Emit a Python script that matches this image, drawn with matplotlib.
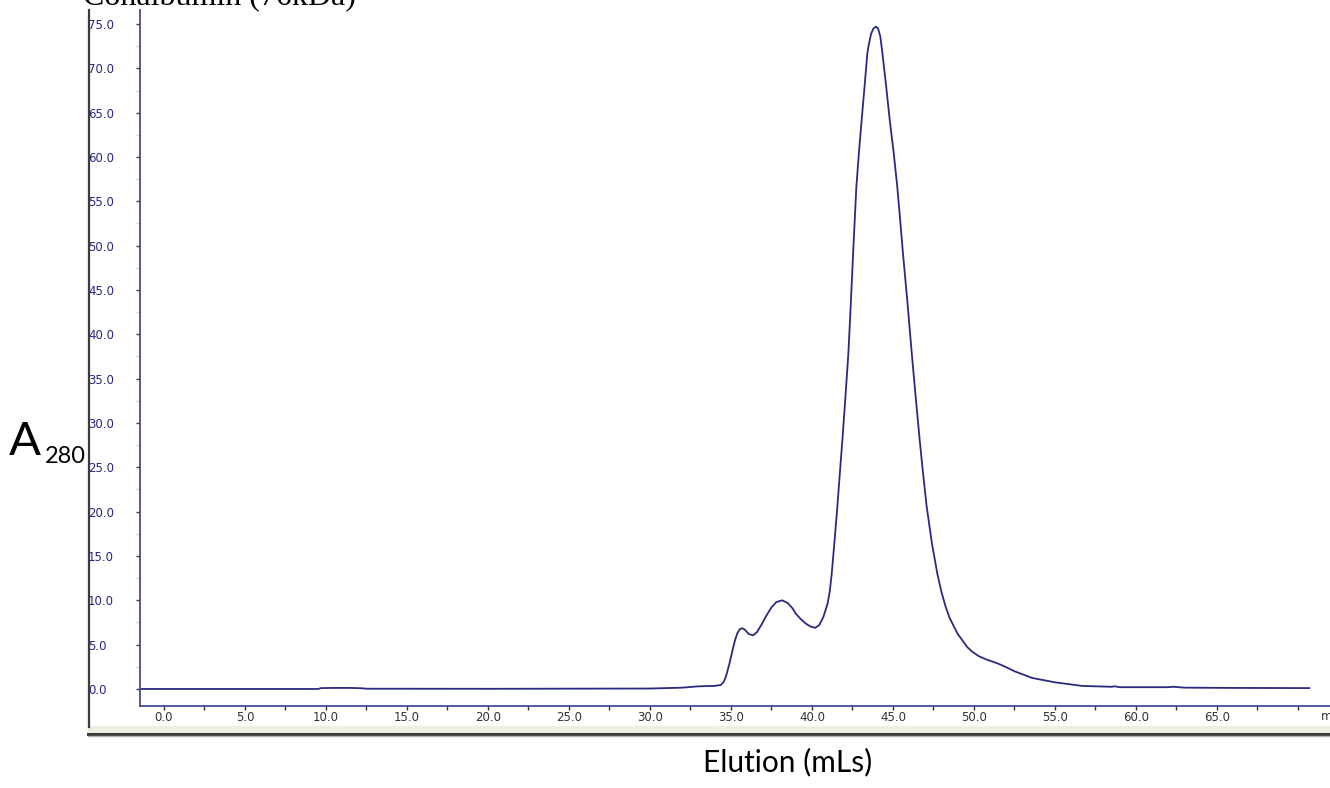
import numpy as np
import matplotlib.pyplot as plt
from matplotlib.lines import Line2D
from matplotlib.patches import Rectangle
from matplotlib.ticker import MultipleLocator

# Conalbumin gel filtration trace, A280 vs elution volume (mL)
vol = [-1.5, 9.5, 9.7, 10.5, 11.5, 12.2, 12.5, 20.0, 30.0, 32.0, 33.0, 34.0,
       34.38, 34.55, 34.69, 34.9, 35.1, 35.25, 35.4, 35.55, 35.7, 35.85, 36.1,
       36.37, 36.6, 36.9, 37.15, 37.5, 37.8, 38.15, 38.5, 38.8, 39.0, 39.3,
       39.6, 39.9, 40.2, 40.45, 40.7, 40.96, 41.1, 41.22, 41.4, 41.57, 41.72,
       41.88, 42.07, 42.25, 42.4, 42.54, 42.74, 42.9, 43.07, 43.25, 43.42,
       43.5, 43.65, 43.8, 43.94, 44.08, 44.22, 44.35, 44.58, 44.8, 45.05,
       45.27, 45.45, 45.62, 45.9, 46.16, 46.4, 46.65, 46.86, 47.08, 47.4,
       47.74, 48.0, 48.25, 48.5, 49.0, 49.28, 49.6, 49.9, 50.3, 50.8, 51.44,
       52.0, 52.5, 53.6, 55.0, 56.7, 58.5, 58.7, 59.0, 62.0, 62.3, 63.0,
       66.0, 70.7]
a280 = [0.0, 0.0, 0.1, 0.12, 0.12, 0.08, 0.03, 0.02, 0.05, 0.15, 0.3, 0.35,
        0.45, 0.8, 1.39, 2.8, 4.4, 5.5, 6.3, 6.75, 6.85, 6.7, 6.2,
        6.05, 6.4, 7.3, 8.15, 9.2, 9.8, 10.0, 9.7, 9.1, 8.5, 7.9,
        7.4, 7.05, 6.9, 7.2, 8.1, 9.6, 11.0, 13.0, 16.8, 20.6, 24.3,
        28.1, 33.0, 37.9, 43.5, 49.1, 56.6, 60.5, 64.2, 68.0, 71.7,
        72.6, 73.9, 74.5, 74.7, 74.5, 73.6, 71.7, 68.0, 64.2, 60.4,
        56.6, 52.8, 49.1, 43.5, 37.9, 33.0, 28.1, 24.3, 20.6, 16.5,
        13.0, 10.9, 9.3, 8.0, 6.2, 5.5, 4.7, 4.2, 3.7, 3.3, 2.9,
        2.45, 2.0, 1.24, 0.75, 0.34, 0.25, 0.3, 0.2, 0.2, 0.25, 0.15,
        0.12, 0.1]

x_major = [0, 5, 10, 15, 20, 25, 30, 35, 40, 45, 50, 55, 60, 65, 70]
x_labels = ['0.0', '5.0', '10.0', '15.0', '20.0', '25.0', '30.0', '35.0',
            '40.0', '45.0', '50.0', '55.0', '60.0', '65.0', '']
y_major = [0, 5, 10, 15, 20, 25, 30, 35, 40, 45, 50, 55, 60, 65, 70, 75]
y_labels = ['%.1f' % v for v in y_major]

W, H = 1330, 788
fig = plt.figure(figsize=(W / 100, H / 100), dpi=100)
ax = fig.add_axes([140 / W, 1 - 706 / H, 1 - 140 / W, 696 / H])

ax.plot(vol, a280, color='#2a2a80', lw=1.3)
ax.set_xlim(-1.48, 71.98)
ax.set_ylim(-1.92, 76.58)

axis_col = '#4a4a96'
for s in ['top', 'right']:
    ax.spines[s].set_visible(False)
for s in ['left', 'bottom']:
    ax.spines[s].set_color(axis_col)
    ax.spines[s].set_linewidth(1.3)

ax.set_xticks(x_major)
ax.set_xticklabels(x_labels)
ax.set_yticks(y_major)
ax.set_yticklabels(y_labels)
ax.xaxis.set_minor_locator(MultipleLocator(2.5))
ax.yaxis.set_minor_locator(MultipleLocator(2.5))
ax.tick_params(axis='x', which='both', direction='out', length=3, width=1,
               color='#333333', labelsize=8.5, labelcolor='#333333', pad=0.6)
ax.tick_params(axis='y', which='major', direction='out', length=3, width=1,
               color='#333366', labelsize=8.5, labelcolor='#262680', pad=34.4)
ax.tick_params(axis='y', which='minor', direction='out', length=3, width=1,
               color='#d8d8e4')
for lab in ax.get_yticklabels():
    lab.set_horizontalalignment('left')

# unit label, cut by the right border
fig.text(1321 / W, 1 - 717 / H, 'm', fontsize=8.5, color='#333333',
         ha='left', va='center')

# window frame: left edge and bottom bar
fig.add_artist(Line2D([89 / W, 89 / W], [1 - 10 / H, 1 - 727 / H],
                      color='#3c3c3c', lw=1.6, zorder=5))
fig.add_artist(Rectangle((88 / W, 1 - 733 / H), 1 - 88 / W, 7 / H,
                         transform=fig.transFigure, facecolor='#efeee2',
                         edgecolor='none', zorder=4))
fig.add_artist(Line2D([88 / W, 1], [1 - 733.5 / H, 1 - 733.5 / H],
                      color='#3a3a3a', lw=2.2, zorder=5))
fig.add_artist(Line2D([88 / W, 1], [1 - 736 / H, 1 - 736 / H],
                      color='#b0b0b0', lw=1, zorder=5))

fig.text(83 / W, 1 - 5 / H, 'Conalbumin (76kDa)', family='Liberation Serif',
         fontsize=23, ha='left', va='baseline', color='black')
fig.text(9 / W, 1 - 455 / H, 'A', family='Lato', fontsize=34,
         ha='left', va='baseline', color='black')
fig.text(45 / W, 1 - 463 / H, '280', family='Lato', fontsize=17,
         ha='left', va='baseline', color='black')
fig.text(788 / W, 1 - 771 / H, 'Elution (mLs)', family='Lato', fontsize=21.5,
         ha='center', va='baseline', color='black')

fig.savefig('out.png', dpi=100)
